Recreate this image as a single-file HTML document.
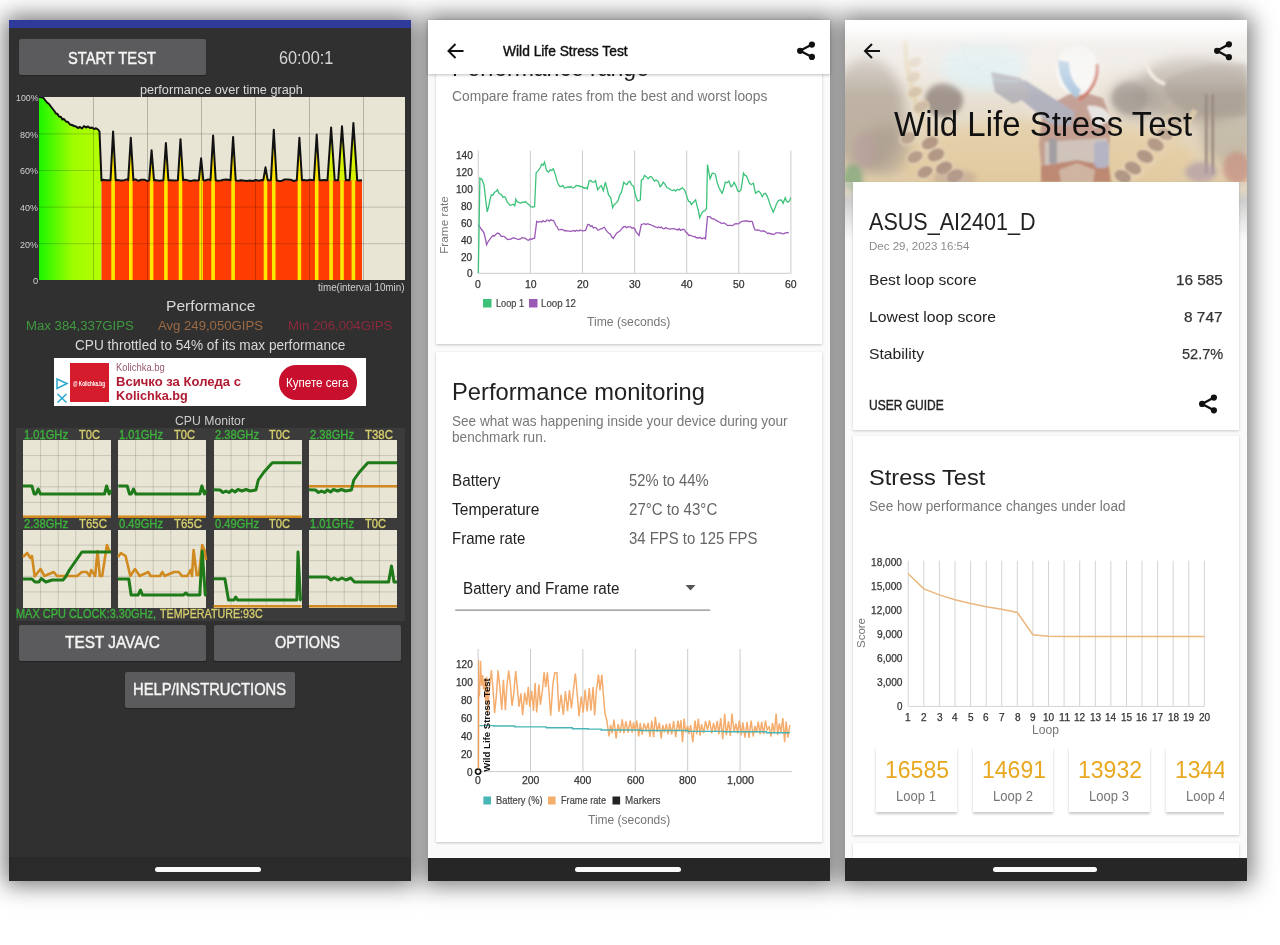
<!DOCTYPE html><html><head><meta charset="utf-8"><style>
html,body{margin:0;padding:0;width:1280px;height:945px;overflow:hidden;background:#fff;}
.t{position:absolute;white-space:nowrap;line-height:1;font-family:"Liberation Sans", sans-serif;transform-origin:0 0;}
</style></head><body>
<div style="position:absolute;left:9px;top:20px;width:402px;height:861px;box-shadow:0 0 22px 4px rgba(0,0,0,0.55);background:#303030;"></div>
<div style="position:absolute;left:428px;top:20px;width:402px;height:861px;box-shadow:0 0 22px 4px rgba(0,0,0,0.55);background:#303030;"></div>
<div style="position:absolute;left:845px;top:20px;width:402px;height:861px;box-shadow:0 0 22px 4px rgba(0,0,0,0.55);background:#303030;"></div>
<div style="position:absolute;left:9px;top:20px;width:402px;height:861px;background:#303030;"></div>
<div style="position:absolute;left:9px;top:20px;width:402px;height:8px;background:#2f3a9a;"></div>
<div style="position:absolute;left:9px;top:857px;width:402px;height:24px;background:#2a2a2a;"></div>
<div style="position:absolute;left:155px;top:866.5px;width:106px;height:5px;background:#fafafa;border-radius:3px;"></div>
<div style="position:absolute;left:19px;top:39px;width:187px;height:36px;background:#5b5b5d;border-radius:2px;box-shadow:0 1px 1px rgba(0,0,0,0.3);"></div>
<div style="position:absolute;left:19px;top:625px;width:187px;height:36px;background:#5b5b5d;border-radius:2px;box-shadow:0 1px 1px rgba(0,0,0,0.3);"></div>
<div style="position:absolute;left:213.5px;top:625px;width:187.5px;height:36px;background:#5b5b5d;border-radius:2px;box-shadow:0 1px 1px rgba(0,0,0,0.3);"></div>
<div style="position:absolute;left:125px;top:671.5px;width:170px;height:36px;background:#5b5b5d;border-radius:2px;box-shadow:0 1px 1px rgba(0,0,0,0.3);"></div>
<div style="position:absolute;left:39px;top:97px;width:366px;height:183px;background:#e8e5d5;"></div>
<div style="position:absolute;left:53.5px;top:357.5px;width:312.5px;height:48.5px;background:#ffffff;"></div>
<div style="position:absolute;left:69.5px;top:363px;width:39px;height:39px;background:#d41c2c;"></div>
<div style="position:absolute;left:278.5px;top:365px;width:78px;height:34.5px;background:#c8102e;border-radius:17px;"></div>
<div style="position:absolute;left:15.5px;top:428px;width:389px;height:193px;background:#3b3b3b;"></div>
<div style="position:absolute;left:23px;top:440px;width:88px;height:78px;background:#e8e5d5;"></div>
<div style="position:absolute;left:118px;top:440px;width:88px;height:78px;background:#e8e5d5;"></div>
<div style="position:absolute;left:213.5px;top:440px;width:88px;height:78px;background:#e8e5d5;"></div>
<div style="position:absolute;left:309px;top:440px;width:88px;height:78px;background:#e8e5d5;"></div>
<div style="position:absolute;left:23px;top:529.5px;width:88px;height:78px;background:#e8e5d5;"></div>
<div style="position:absolute;left:118px;top:529.5px;width:88px;height:78px;background:#e8e5d5;"></div>
<div style="position:absolute;left:213.5px;top:529.5px;width:88px;height:78px;background:#e8e5d5;"></div>
<div style="position:absolute;left:309px;top:529.5px;width:88px;height:78px;background:#e8e5d5;"></div>
<div style="position:absolute;left:428px;top:20px;width:402px;height:861px;background:#fafafa;"></div>
<div style="position:absolute;left:436px;top:20px;width:386px;height:323.5px;background:#fff;box-shadow:0 1px 2.5px rgba(0,0,0,0.22);"></div>
<div style="position:absolute;left:436px;top:352px;width:386px;height:490px;background:#fff;box-shadow:0 1px 2.5px rgba(0,0,0,0.22);"></div>
<div style="position:absolute;left:428px;top:73px;width:402px;height:12px;overflow:hidden;"><span class="t" style="left:24.40px;top:-15.96px;font-size:23.69px;color:#212121;transform:scaleX(0.9714);">Performance range</span></div>
<div style="position:absolute;left:428px;top:20px;width:402px;height:53.5px;background:#fff;box-shadow:0 1px 3px rgba(0,0,0,0.25);"></div>
<div style="position:absolute;left:428px;top:858px;width:402px;height:23px;background:#262626;"></div>
<div style="position:absolute;left:575px;top:867.3px;width:106px;height:5px;background:#fafafa;border-radius:3px;"></div>
<div style="position:absolute;left:845px;top:20px;width:402px;height:861px;background:#fafafa;"></div>
<div style="position:absolute;left:845px;top:20px;width:402px;height:200px;overflow:hidden;">
<svg width="402" height="200"><defs><linearGradient id="hb" x1="0" y1="0" x2="0" y2="1"><stop offset="0" stop-color="#f4f2f0"/><stop offset="0.2" stop-color="#ebe6e0"/><stop offset="0.5" stop-color="#e4d8c4"/><stop offset="0.8" stop-color="#ddc7a0"/><stop offset="1" stop-color="#d8c4a0"/></linearGradient><filter id="hf1" x="-50%" y="-50%" width="200%" height="200%"><feGaussianBlur stdDeviation="6"/></filter><filter id="hf2" x="-50%" y="-50%" width="200%" height="200%"><feGaussianBlur stdDeviation="2.5"/></filter><filter id="hf3" x="-50%" y="-50%" width="200%" height="200%"><feGaussianBlur stdDeviation="0.8"/></filter><linearGradient id="hw" x1="0" y1="0" x2="0" y2="1"><stop offset="0" stop-color="#fff" stop-opacity="1"/><stop offset="0.12" stop-color="#fff" stop-opacity="0.85"/><stop offset="0.35" stop-color="#f4f2f0" stop-opacity="0.55"/><stop offset="1" stop-color="#fff" stop-opacity="0"/></linearGradient></defs>
<rect width="402" height="200" fill="url(#hb)"/>
<ellipse cx="200" cy="140" rx="150" ry="40" fill="#e2c48e" opacity="0.55" filter="url(#hf1)"/>
<g filter="url(#hf1)"><ellipse cx="22" cy="95" rx="38" ry="58" fill="#a49686" opacity="0.7"/><ellipse cx="40" cy="130" rx="25" ry="25" fill="#9c8c7c" opacity="0.5"/></g>
<g filter="url(#hf2)"><ellipse cx="99" cy="80" rx="19" ry="17" fill="#7c6e66" opacity="0.75"/></g>
<g filter="url(#hf1)"><ellipse cx="140" cy="45" rx="45" ry="25" fill="#d6eef2" opacity="0.8"/></g>
<g filter="url(#hf3)" opacity="0.92">
<path d="M60,20 Q62,100 120,165" fill="none" stroke="#e2cca4" stroke-width="5" opacity="0.8"/>
<ellipse cx="70" cy="42" rx="6.8" ry="4.7" fill="#dccbb4" stroke="#ead8b8" stroke-width="1.2" transform="rotate(-25 70 42)"/>
<ellipse cx="68" cy="57" rx="7.4" ry="5.2" fill="#d6c4aa" stroke="#ead8b8" stroke-width="1.2" transform="rotate(-25 68 57)"/>
<ellipse cx="70" cy="72" rx="7.9" ry="5.2" fill="#d0bca0" stroke="#ead8b8" stroke-width="1.2" transform="rotate(-25 70 72)"/>
<ellipse cx="76" cy="87" rx="8.4" ry="5.8" fill="#c8b298" stroke="#ead8b8" stroke-width="1.2" transform="rotate(-25 76 87)"/>
<ellipse cx="85" cy="123" rx="9.5" ry="6.8" fill="#a88a76" stroke="#ead8b8" stroke-width="1.2" transform="rotate(-25 85 123)"/>
<ellipse cx="91" cy="135" rx="9.5" ry="6.8" fill="#a68874" stroke="#ead8b8" stroke-width="1.2" transform="rotate(-25 91 135)"/>
<ellipse cx="99" cy="148" rx="9.5" ry="6.8" fill="#a48674" stroke="#ead8b8" stroke-width="1.2" transform="rotate(-25 99 148)"/>
<ellipse cx="110" cy="156" rx="9.5" ry="6.8" fill="#a48674" stroke="#ead8b8" stroke-width="1.2" transform="rotate(-25 110 156)"/>
<ellipse cx="63" cy="118" rx="8.4" ry="6.3" fill="#b49a86" stroke="#ead8b8" stroke-width="1.2" transform="rotate(-25 63 118)"/>
<ellipse cx="70" cy="137" rx="8.9" ry="6.3" fill="#ac907c" stroke="#ead8b8" stroke-width="1.2" transform="rotate(-25 70 137)"/>
<ellipse cx="80" cy="152" rx="8.9" ry="6.3" fill="#a88a78" stroke="#ead8b8" stroke-width="1.2" transform="rotate(-25 80 152)"/>
</g>
<g filter="url(#hf3)" opacity="0.85">
<ellipse cx="215" cy="60" rx="40" ry="45" fill="#f6efe6" opacity="0.6" filter="url(#hf1)"/>
<path d="M198,88 L232,70 L258,78 L266,100 L262,162 L198,162 L194,125 Z" fill="#b88c80"/>
<path d="M200,122 L262,118 L262,146 L200,146 Z" fill="#c6bcb8"/>
<path d="M196,146 L232,140 L264,146 L266,162 L196,162 Z" fill="#b0705c"/>
<path d="M214,150 L232,143 L250,150 L248,162 L216,162 Z" fill="#c8a898"/>
<path d="M242,86 Q262,84 266,100 L250,108 Z" fill="#e8e4e4"/>
<path d="M160,66 L180,60 L230,92 L226,106 L205,104 Z" fill="#a0a2b4"/>
<path d="M146,52 L176,58 L186,76 L168,84 L150,72 Z" fill="#a8a6ae"/>
<ellipse cx="232" cy="50" rx="21" ry="25" fill="#fafafa"/>
<path d="M213,40 Q214,66 232,78 L236,70 Q224,60 224,42 Z" fill="#9cc0e0"/>
<path d="M252,44 Q254,66 234,80" fill="none" stroke="#c86048" stroke-width="3.5"/>
<rect x="249" y="121" width="15" height="27" rx="5" fill="#a4a8c4"/>
<rect x="204" y="118" width="8" height="26" rx="3" fill="#8c8c98"/>
</g>
<g filter="url(#hf1)"><ellipse cx="350" cy="70" rx="60" ry="34" fill="#a09284" opacity="0.65"/><ellipse cx="292" cy="78" rx="26" ry="22" fill="#a49a90" opacity="0.6"/><ellipse cx="385" cy="110" rx="30" ry="35" fill="#a49c8c" opacity="0.55"/></g>
<g filter="url(#hf2)" opacity="0.7"><path d="M318,62 Q350,40 402,44 L402,95 Q370,100 340,92 Q320,80 318,62 Z" fill="#a09488"/><ellipse cx="285" cy="78" rx="18" ry="16" fill="#968c84"/></g>
<g filter="url(#hf3)"><path d="M300,38 Q303,58 320,64" fill="none" stroke="#ece4d8" stroke-width="4"/><rect x="360" y="74" width="2.5" height="80" fill="#8e7c70"/><rect x="366.5" y="74" width="2.5" height="80" fill="#8e7c70"/></g>
<g filter="url(#hf3)" opacity="0.9"><path d="M350,90 Q330,130 280,165" fill="none" stroke="#e2cca4" stroke-width="6" opacity="0.85"/>
<ellipse cx="328" cy="101.5" rx="8.4" ry="5.2" fill="#c4ac96" stroke="#ead8b8" stroke-width="1.2" transform="rotate(25 328 101.5)"/>
<ellipse cx="320" cy="114" rx="8.9" ry="6.3" fill="#b49a84" stroke="#ead8b8" stroke-width="1.2" transform="rotate(25 320 114)"/>
<ellipse cx="310.5" cy="124.7" rx="9.5" ry="6.8" fill="#a88a76" stroke="#ead8b8" stroke-width="1.2" transform="rotate(25 310.5 124.7)"/>
<ellipse cx="300" cy="136.4" rx="9.5" ry="6.8" fill="#a48674" stroke="#ead8b8" stroke-width="1.2" transform="rotate(25 300 136.4)"/>
<ellipse cx="288" cy="148" rx="9.5" ry="6.8" fill="#a48674" stroke="#ead8b8" stroke-width="1.2" transform="rotate(25 288 148)"/>
<ellipse cx="277.7" cy="156.4" rx="9.5" ry="6.8" fill="#a48674" stroke="#ead8b8" stroke-width="1.2" transform="rotate(25 277.7 156.4)"/>
</g>
<g filter="url(#hf2)"><ellipse cx="392" cy="148" rx="14" ry="16" fill="#c08878" opacity="0.8"/><ellipse cx="356" cy="152" rx="16" ry="10" fill="#a8909c" opacity="0.7"/><ellipse cx="8" cy="158" rx="10" ry="14" fill="#78a070" opacity="0.8"/><ellipse cx="20" cy="130" rx="12" ry="18" fill="#b49494" opacity="0.5"/><ellipse cx="110" cy="158" rx="22" ry="8" fill="#b09488" opacity="0.5"/></g>
<rect width="402" height="200" fill="#fff" opacity="0.1"/>
<g filter="url(#hf3)" opacity="0.5" fill="none" stroke="#c8e4ec" stroke-width="1.5"><path d="M90,22 Q110,15 130,30 Q150,45 170,40"/><path d="M100,40 Q120,35 140,55 Q155,65 175,60"/><path d="M115,20 L125,50 L150,35"/></g>
<rect width="402" height="75" fill="url(#hw)"/>
<rect y="162" width="402" height="38" fill="#e4e0dc" opacity="0.5"/>
</svg>
</div>
<div style="position:absolute;left:845px;top:190px;width:402px;height:50px;background:linear-gradient(180deg,rgba(190,185,175,0.0) 0%,rgba(205,205,205,0.95) 20%,#e6e6e6 60%,#fafafa 100%);"></div>
<div style="position:absolute;left:853px;top:182px;width:386px;height:247.5px;background:#fff;box-shadow:0 1px 2.5px rgba(0,0,0,0.2);"></div>
<div style="position:absolute;left:853px;top:436px;width:386px;height:399px;background:#fff;box-shadow:0 1px 2.5px rgba(0,0,0,0.2);"></div>
<div style="position:absolute;left:853px;top:842.6px;width:386px;height:15.4px;background:#fff;box-shadow:0 1px 2.5px rgba(0,0,0,0.2);"></div>
<div style="position:absolute;left:845px;top:858px;width:402px;height:23px;background:#262626;"></div>
<div style="position:absolute;left:993px;top:867.3px;width:104px;height:5px;background:#fafafa;border-radius:3px;"></div>
<div style="position:absolute;left:853px;top:740px;width:370.5px;height:80px;overflow:hidden;">
<div style="position:absolute;left:23.1px;top:7.1px;width:80.5px;height:65px;background:#fff;box-shadow:0 1.5px 2.5px rgba(0,0,0,0.22);"></div>
<div style="position:absolute;left:119.6px;top:7.1px;width:80.5px;height:65px;background:#fff;box-shadow:0 1.5px 2.5px rgba(0,0,0,0.22);"></div>
<div style="position:absolute;left:216.1px;top:7.1px;width:80.5px;height:65px;background:#fff;box-shadow:0 1.5px 2.5px rgba(0,0,0,0.22);"></div>
<div style="position:absolute;left:312.6px;top:7.1px;width:80.5px;height:65px;background:#fff;box-shadow:0 1.5px 2.5px rgba(0,0,0,0.22);"></div>
</div>
<svg width="1280" height="945" style="position:absolute;left:0;top:0">
<defs>
<linearGradient id="g1" x1="39" x2="101" y1="0" y2="0" gradientUnits="userSpaceOnUse">
<stop offset="0" stop-color="#1cf400"/><stop offset="0.15" stop-color="#40f800"/><stop offset="0.55" stop-color="#a0fc00"/><stop offset="1" stop-color="#b4ff00"/></linearGradient>
<clipPath id="c1"><rect x="39" y="97" width="366" height="183"/></clipPath>
<clipPath id="cc"><rect x="23" y="440" width="374" height="167"/></clipPath>
</defs>
<g clip-path="url(#c1)">
<path d="M39,280 L39.0,97.0 L43.0,97.5 L45.0,100.0 L47.0,102.5 L49.0,104.0 L52.0,108.0 L54.0,110.5 L56.0,113.5 L57.5,114.0 L59.0,116.5 L61.0,117.0 L62.5,119.5 L64.0,119.0 L66.0,121.5 L68.0,122.0 L70.0,124.5 L72.0,125.0 L74.0,126.0 L76.0,126.5 L78.0,128.0 L80.0,127.0 L82.0,128.5 L84.0,126.0 L86.0,127.5 L88.0,126.5 L90.0,128.0 L92.0,127.5 L94.0,129.0 L96.0,128.3 L98.0,129.5 L99.5,131.5 L101.5,180.6 L101.5,280 Z" fill="url(#g1)"/>
<rect x="101.5" y="180.2" width="260.5" height="99.80000000000001" fill="#ff3d00"/>
<path d="M110.5,180.2 L113.1,131.4 L115.69999999999999,180.2 Z" fill="#ffe600"/>
<rect x="111.3" y="180.2" width="3.6" height="99.80000000000001" fill="#ffe800"/>
<path d="M128.20000000000002,180.2 L130.8,137.7 L133.4,180.2 Z" fill="#ffe600"/>
<rect x="129.0" y="180.2" width="3.6" height="99.80000000000001" fill="#ffe800"/>
<path d="M149.2,180.2 L151.6,150.2 L154.0,180.2 Z" fill="#ffe600"/>
<rect x="149.79999999999998" y="180.2" width="3.6" height="99.80000000000001" fill="#ffe800"/>
<path d="M163.4,180.2 L165.9,143.1 L168.4,180.2 Z" fill="#ffe600"/>
<rect x="164.1" y="180.2" width="3.6" height="99.80000000000001" fill="#ffe800"/>
<path d="M177.9,180.2 L180.5,139.2 L183.1,180.2 Z" fill="#ffe600"/>
<rect x="178.7" y="180.2" width="3.6" height="99.80000000000001" fill="#ffe800"/>
<path d="M198.9,180.2 L201.1,158.3 L203.29999999999998,180.2 Z" fill="#ffe600"/>
<rect x="199.29999999999998" y="180.2" width="3.6" height="99.80000000000001" fill="#ffe800"/>
<path d="M210.5,180.2 L213.1,135.5 L215.7,180.2 Z" fill="#ffe600"/>
<rect x="211.29999999999998" y="180.2" width="3.6" height="99.80000000000001" fill="#ffe800"/>
<path d="M230.5,180.2 L233.1,136.9 L235.7,180.2 Z" fill="#ffe600"/>
<rect x="231.29999999999998" y="180.2" width="3.6" height="99.80000000000001" fill="#ffe800"/>
<path d="M263.3,180.2 L265.5,167.3 L267.7,180.2 Z" fill="#ffe600"/>
<rect x="263.7" y="180.2" width="3.6" height="99.80000000000001" fill="#ffe800"/>
<path d="M270.95,180.2 L273.75,129.8 L276.55,180.2 Z" fill="#ffe600"/>
<rect x="271.95" y="180.2" width="3.6" height="99.80000000000001" fill="#ffe800"/>
<path d="M296.79999999999995,180.2 L299.4,137.7 L302.0,180.2 Z" fill="#ffe600"/>
<rect x="297.59999999999997" y="180.2" width="3.6" height="99.80000000000001" fill="#ffe800"/>
<path d="M313.9,180.2 L316.7,134.5 L319.5,180.2 Z" fill="#ffe600"/>
<rect x="314.9" y="180.2" width="3.6" height="99.80000000000001" fill="#ffe800"/>
<path d="M327.5,180.2 L331.1,127.5 L334.70000000000005,180.2 Z" fill="#d8f400"/>
<rect x="329.3" y="180.2" width="3.6" height="99.80000000000001" fill="#ffe800"/>
<path d="M338.2,180.2 L342,126.25 L345.8,180.2 Z" fill="#d8f400"/>
<rect x="340.2" y="180.2" width="3.6" height="99.80000000000001" fill="#ffe800"/>
<path d="M349.59999999999997,180.2 L353.4,123.1 L357.2,180.2 Z" fill="#d8f400"/>
<rect x="351.59999999999997" y="180.2" width="3.6" height="99.80000000000001" fill="#ffe800"/>
<line x1="93.5" y1="97" x2="93.5" y2="280" stroke="#000" stroke-opacity="0.22" stroke-width="1"/>
<line x1="147.5" y1="97" x2="147.5" y2="280" stroke="#000" stroke-opacity="0.22" stroke-width="1"/>
<line x1="201.5" y1="97" x2="201.5" y2="280" stroke="#000" stroke-opacity="0.22" stroke-width="1"/>
<line x1="255.5" y1="97" x2="255.5" y2="280" stroke="#000" stroke-opacity="0.22" stroke-width="1"/>
<line x1="309.5" y1="97" x2="309.5" y2="280" stroke="#000" stroke-opacity="0.22" stroke-width="1"/>
<line x1="363.5" y1="97" x2="363.5" y2="280" stroke="#000" stroke-opacity="0.22" stroke-width="1"/>
<line x1="39" y1="133.9" x2="405" y2="133.9" stroke="#000" stroke-opacity="0.18" stroke-width="1"/>
<line x1="39" y1="170.5" x2="405" y2="170.5" stroke="#000" stroke-opacity="0.18" stroke-width="1"/>
<line x1="39" y1="207.1" x2="405" y2="207.1" stroke="#000" stroke-opacity="0.18" stroke-width="1"/>
<line x1="39" y1="243.7" x2="405" y2="243.7" stroke="#000" stroke-opacity="0.18" stroke-width="1"/>
<path d="M39.0,97.0 L43.0,97.5 L45.0,100.0 L47.0,102.5 L49.0,104.0 L52.0,108.0 L54.0,110.5 L56.0,113.5 L57.5,114.0 L59.0,116.5 L61.0,117.0 L62.5,119.5 L64.0,119.0 L66.0,121.5 L68.0,122.0 L70.0,124.5 L72.0,125.0 L74.0,126.0 L76.0,126.5 L78.0,128.0 L80.0,127.0 L82.0,128.5 L84.0,126.0 L86.0,127.5 L88.0,126.5 L90.0,128.0 L92.0,127.5 L94.0,129.0 L96.0,128.3 L98.0,129.5 L99.5,131.5 L101.5,180.6 L103.0,179.7 L106.0,180.3 L110.5,180.2 L113.1,131.4 L115.7,180.2 L117.7,180.0 L120.7,180.4 L123.7,180.4 L126.7,179.4 L128.2,180.2 L130.8,137.7 L133.4,180.2 L135.4,179.3 L138.4,180.8 L141.4,179.8 L144.4,179.7 L147.4,181.1 L149.2,180.2 L151.6,150.2 L154.0,180.2 L156.0,180.1 L159.0,180.8 L163.4,180.2 L165.9,143.1 L168.4,180.2 L170.4,180.2 L173.4,180.5 L177.9,180.2 L180.5,139.2 L183.1,180.2 L185.1,179.6 L188.1,180.4 L191.1,180.9 L194.1,180.2 L197.1,180.6 L198.9,180.2 L201.1,158.3 L203.3,180.2 L205.3,180.5 L208.3,179.4 L210.5,180.2 L213.1,135.5 L215.7,180.2 L217.7,180.7 L220.7,180.4 L223.7,179.8 L226.7,179.4 L230.5,180.2 L233.1,136.9 L235.7,180.2 L237.7,180.9 L240.7,180.2 L243.7,180.6 L246.7,180.9 L249.7,180.6 L252.7,181.0 L255.7,180.0 L258.7,180.7 L261.7,180.1 L263.3,180.2 L265.5,167.3 L267.7,180.2 L270.9,180.2 L273.8,129.8 L276.6,180.2 L278.6,181.0 L281.6,180.9 L284.6,179.5 L287.6,179.5 L290.6,179.7 L293.6,181.0 L296.8,180.2 L299.4,137.7 L302.0,180.2 L304.0,180.1 L307.0,180.4 L310.0,179.8 L313.9,180.2 L316.7,134.5 L319.5,180.2 L321.5,180.2 L324.5,180.0 L327.5,180.2 L331.1,127.5 L334.7,180.2 L338.2,180.2 L342.0,126.2 L345.8,180.2 L347.8,179.9 L349.6,180.2 L353.4,123.1 L357.2,180.2 L359.2,180.4 L362.0,180.2" fill="none" stroke="#111" stroke-width="2" stroke-linejoin="round"/>
</g>
<line x1="40.6" y1="440" x2="40.6" y2="518" stroke="#000" stroke-opacity="0.14" stroke-width="1"/>
<line x1="58.2" y1="440" x2="58.2" y2="518" stroke="#000" stroke-opacity="0.14" stroke-width="1"/>
<line x1="75.8" y1="440" x2="75.8" y2="518" stroke="#000" stroke-opacity="0.14" stroke-width="1"/>
<line x1="93.4" y1="440" x2="93.4" y2="518" stroke="#000" stroke-opacity="0.14" stroke-width="1"/>
<line x1="23" y1="455.6" x2="111" y2="455.6" stroke="#000" stroke-opacity="0.14" stroke-width="1"/>
<line x1="23" y1="471.2" x2="111" y2="471.2" stroke="#000" stroke-opacity="0.14" stroke-width="1"/>
<line x1="23" y1="486.8" x2="111" y2="486.8" stroke="#000" stroke-opacity="0.14" stroke-width="1"/>
<line x1="23" y1="502.4" x2="111" y2="502.4" stroke="#000" stroke-opacity="0.14" stroke-width="1"/>
<line x1="135.6" y1="440" x2="135.6" y2="518" stroke="#000" stroke-opacity="0.14" stroke-width="1"/>
<line x1="153.2" y1="440" x2="153.2" y2="518" stroke="#000" stroke-opacity="0.14" stroke-width="1"/>
<line x1="170.8" y1="440" x2="170.8" y2="518" stroke="#000" stroke-opacity="0.14" stroke-width="1"/>
<line x1="188.4" y1="440" x2="188.4" y2="518" stroke="#000" stroke-opacity="0.14" stroke-width="1"/>
<line x1="118" y1="455.6" x2="206" y2="455.6" stroke="#000" stroke-opacity="0.14" stroke-width="1"/>
<line x1="118" y1="471.2" x2="206" y2="471.2" stroke="#000" stroke-opacity="0.14" stroke-width="1"/>
<line x1="118" y1="486.8" x2="206" y2="486.8" stroke="#000" stroke-opacity="0.14" stroke-width="1"/>
<line x1="118" y1="502.4" x2="206" y2="502.4" stroke="#000" stroke-opacity="0.14" stroke-width="1"/>
<line x1="231.1" y1="440" x2="231.1" y2="518" stroke="#000" stroke-opacity="0.14" stroke-width="1"/>
<line x1="248.7" y1="440" x2="248.7" y2="518" stroke="#000" stroke-opacity="0.14" stroke-width="1"/>
<line x1="266.3" y1="440" x2="266.3" y2="518" stroke="#000" stroke-opacity="0.14" stroke-width="1"/>
<line x1="283.9" y1="440" x2="283.9" y2="518" stroke="#000" stroke-opacity="0.14" stroke-width="1"/>
<line x1="213.5" y1="455.6" x2="301.5" y2="455.6" stroke="#000" stroke-opacity="0.14" stroke-width="1"/>
<line x1="213.5" y1="471.2" x2="301.5" y2="471.2" stroke="#000" stroke-opacity="0.14" stroke-width="1"/>
<line x1="213.5" y1="486.8" x2="301.5" y2="486.8" stroke="#000" stroke-opacity="0.14" stroke-width="1"/>
<line x1="213.5" y1="502.4" x2="301.5" y2="502.4" stroke="#000" stroke-opacity="0.14" stroke-width="1"/>
<line x1="326.6" y1="440" x2="326.6" y2="518" stroke="#000" stroke-opacity="0.14" stroke-width="1"/>
<line x1="344.2" y1="440" x2="344.2" y2="518" stroke="#000" stroke-opacity="0.14" stroke-width="1"/>
<line x1="361.8" y1="440" x2="361.8" y2="518" stroke="#000" stroke-opacity="0.14" stroke-width="1"/>
<line x1="379.4" y1="440" x2="379.4" y2="518" stroke="#000" stroke-opacity="0.14" stroke-width="1"/>
<line x1="309" y1="455.6" x2="397" y2="455.6" stroke="#000" stroke-opacity="0.14" stroke-width="1"/>
<line x1="309" y1="471.2" x2="397" y2="471.2" stroke="#000" stroke-opacity="0.14" stroke-width="1"/>
<line x1="309" y1="486.8" x2="397" y2="486.8" stroke="#000" stroke-opacity="0.14" stroke-width="1"/>
<line x1="309" y1="502.4" x2="397" y2="502.4" stroke="#000" stroke-opacity="0.14" stroke-width="1"/>
<line x1="40.6" y1="529.5" x2="40.6" y2="607.5" stroke="#000" stroke-opacity="0.14" stroke-width="1"/>
<line x1="58.2" y1="529.5" x2="58.2" y2="607.5" stroke="#000" stroke-opacity="0.14" stroke-width="1"/>
<line x1="75.8" y1="529.5" x2="75.8" y2="607.5" stroke="#000" stroke-opacity="0.14" stroke-width="1"/>
<line x1="93.4" y1="529.5" x2="93.4" y2="607.5" stroke="#000" stroke-opacity="0.14" stroke-width="1"/>
<line x1="23" y1="545.1" x2="111" y2="545.1" stroke="#000" stroke-opacity="0.14" stroke-width="1"/>
<line x1="23" y1="560.7" x2="111" y2="560.7" stroke="#000" stroke-opacity="0.14" stroke-width="1"/>
<line x1="23" y1="576.3" x2="111" y2="576.3" stroke="#000" stroke-opacity="0.14" stroke-width="1"/>
<line x1="23" y1="591.9" x2="111" y2="591.9" stroke="#000" stroke-opacity="0.14" stroke-width="1"/>
<line x1="135.6" y1="529.5" x2="135.6" y2="607.5" stroke="#000" stroke-opacity="0.14" stroke-width="1"/>
<line x1="153.2" y1="529.5" x2="153.2" y2="607.5" stroke="#000" stroke-opacity="0.14" stroke-width="1"/>
<line x1="170.8" y1="529.5" x2="170.8" y2="607.5" stroke="#000" stroke-opacity="0.14" stroke-width="1"/>
<line x1="188.4" y1="529.5" x2="188.4" y2="607.5" stroke="#000" stroke-opacity="0.14" stroke-width="1"/>
<line x1="118" y1="545.1" x2="206" y2="545.1" stroke="#000" stroke-opacity="0.14" stroke-width="1"/>
<line x1="118" y1="560.7" x2="206" y2="560.7" stroke="#000" stroke-opacity="0.14" stroke-width="1"/>
<line x1="118" y1="576.3" x2="206" y2="576.3" stroke="#000" stroke-opacity="0.14" stroke-width="1"/>
<line x1="118" y1="591.9" x2="206" y2="591.9" stroke="#000" stroke-opacity="0.14" stroke-width="1"/>
<line x1="231.1" y1="529.5" x2="231.1" y2="607.5" stroke="#000" stroke-opacity="0.14" stroke-width="1"/>
<line x1="248.7" y1="529.5" x2="248.7" y2="607.5" stroke="#000" stroke-opacity="0.14" stroke-width="1"/>
<line x1="266.3" y1="529.5" x2="266.3" y2="607.5" stroke="#000" stroke-opacity="0.14" stroke-width="1"/>
<line x1="283.9" y1="529.5" x2="283.9" y2="607.5" stroke="#000" stroke-opacity="0.14" stroke-width="1"/>
<line x1="213.5" y1="545.1" x2="301.5" y2="545.1" stroke="#000" stroke-opacity="0.14" stroke-width="1"/>
<line x1="213.5" y1="560.7" x2="301.5" y2="560.7" stroke="#000" stroke-opacity="0.14" stroke-width="1"/>
<line x1="213.5" y1="576.3" x2="301.5" y2="576.3" stroke="#000" stroke-opacity="0.14" stroke-width="1"/>
<line x1="213.5" y1="591.9" x2="301.5" y2="591.9" stroke="#000" stroke-opacity="0.14" stroke-width="1"/>
<line x1="326.6" y1="529.5" x2="326.6" y2="607.5" stroke="#000" stroke-opacity="0.14" stroke-width="1"/>
<line x1="344.2" y1="529.5" x2="344.2" y2="607.5" stroke="#000" stroke-opacity="0.14" stroke-width="1"/>
<line x1="361.8" y1="529.5" x2="361.8" y2="607.5" stroke="#000" stroke-opacity="0.14" stroke-width="1"/>
<line x1="379.4" y1="529.5" x2="379.4" y2="607.5" stroke="#000" stroke-opacity="0.14" stroke-width="1"/>
<line x1="309" y1="545.1" x2="397" y2="545.1" stroke="#000" stroke-opacity="0.14" stroke-width="1"/>
<line x1="309" y1="560.7" x2="397" y2="560.7" stroke="#000" stroke-opacity="0.14" stroke-width="1"/>
<line x1="309" y1="576.3" x2="397" y2="576.3" stroke="#000" stroke-opacity="0.14" stroke-width="1"/>
<line x1="309" y1="591.9" x2="397" y2="591.9" stroke="#000" stroke-opacity="0.14" stroke-width="1"/>
<rect x="23" y="515.5" width="88" height="2.5" fill="#d08a20"/>
<rect x="118" y="515.5" width="88" height="2.5" fill="#d08a20"/>
<rect x="213.5" y="515.5" width="88" height="2.5" fill="#d08a20"/>
<rect x="213.5" y="605.0" width="88" height="2.5" fill="#d08a20"/>
<rect x="309" y="605.0" width="88" height="2.5" fill="#d08a20"/>
<polyline points="23.0,486.0 31.9,486.0 34.2,494.0 36.0,494.0 38.1,489.0 40.5,494.0 104.5,494.0 106.6,486.0 109.2,494.0 111.0,490.0" fill="none" stroke="#1f7a1a" stroke-width="3" stroke-linejoin="round"/>
<polyline points="118.3,486.0 127.2,486.0 129.5,494.0 131.3,494.0 133.4,489.0 135.8,494.0 199.8,494.0 201.9,486.0 204.5,494.0 206.3,490.0" fill="none" stroke="#1f7a1a" stroke-width="3" stroke-linejoin="round"/>
<polyline points="213.5,489.7 220.0,490.0 223.0,492.5 226.0,491.0 229.0,492.5 232.0,490.0 235.0,492.0 238.0,489.5 242.0,491.0 246.0,489.5 250.0,491.0 255.9,490.0 258.3,480.0 264.0,472.0 272.3,462.8 301.5,462.8" fill="none" stroke="#1f7a1a" stroke-width="3" stroke-linejoin="round"/>
<rect x="309" y="485" width="88" height="2.5" fill="#d08a20"/>
<polyline points="309.0,489.7 315.5,490.0 318.5,492.5 321.5,491.0 324.5,492.5 327.5,490.0 330.5,492.0 333.5,489.5 337.5,491.0 341.5,489.5 345.5,491.0 351.4,490.0 353.8,480.0 359.5,472.0 367.8,462.8 397.0,462.8" fill="none" stroke="#1f7a1a" stroke-width="3" stroke-linejoin="round"/>
<polyline points="23.0,557.2 27.2,553.0 30.3,558.0 31.9,556.0 34.7,576.5 40.5,569.0 44.4,576.0 53.8,572.0 56.9,576.0 77.2,576.0 81.9,572.0 86.6,572.0 89.7,576.0 91.2,570.0 95.2,576.0 97.5,551.0 99.8,576.0 102.2,576.0 106.9,545.0 110.0,552.0" fill="none" stroke="#d08a20" stroke-width="2.6" stroke-linejoin="round"/>
<polyline points="23.0,579.0 31.9,579.0 35.0,582.0 38.9,582.0 41.2,578.5 45.9,582.0 52.2,580.0 63.0,580.0 65.5,577.0 69.4,570.0 81.9,552.0 111.0,552.0" fill="none" stroke="#1f7a1a" stroke-width="3" stroke-linejoin="round"/>
<polyline points="118.0,557.0 120.9,553.0 125.6,556.0 130.3,576.0 135.0,569.0 139.7,576.0 148.3,572.0 150.6,576.0 160.0,576.0 162.3,572.0 164.7,576.0 174.0,572.0 178.8,572.0 181.9,576.0 187.3,576.0 190.5,570.0 192.0,576.0 193.6,550.0 196.7,575.0 199.0,575.0 202.2,545.0 204.5,550.0 206.0,560.0" fill="none" stroke="#d08a20" stroke-width="2.6" stroke-linejoin="round"/>
<polyline points="118.0,579.0 128.8,579.0 131.1,595.0 138.1,595.0 140.5,590.0 142.5,595.0 183.4,595.0 185.8,593.0 188.1,595.0 199.8,595.0 202.2,551.0 205.3,595.0 206.0,595.0" fill="none" stroke="#1f7a1a" stroke-width="3" stroke-linejoin="round"/>
<polyline points="213.5,578.7 224.9,578.7 228.5,600.0 234.0,600.0 235.7,597.0 237.5,600.0 296.9,600.0 298.0,552.0 300.5,600.0 301.5,600.0" fill="none" stroke="#1f7a1a" stroke-width="3" stroke-linejoin="round"/>
<polyline points="309.0,577.0 327.5,577.0 331.0,580.0 334.0,578.0 338.0,580.0 342.0,578.0 346.0,580.0 350.8,578.0 354.5,582.0 388.6,582.0 391.5,566.0 394.0,582.0 397.0,582.0" fill="none" stroke="#1f7a1a" stroke-width="3" stroke-linejoin="round"/>
<path d="M57,379 L67,383.5 L57,388.5 Z" fill="none" stroke="#2aa8d0" stroke-width="1.5"/>
<path d="M57.5,394 L66.5,402.5 M66.5,394 L57.5,402.5" stroke="#2aa8d0" stroke-width="1.6"/>
<line x1="530.4" y1="150.5" x2="530.4" y2="273.3" stroke="#cccccc" stroke-width="1"/>
<line x1="582.5" y1="150.5" x2="582.5" y2="273.3" stroke="#cccccc" stroke-width="1"/>
<line x1="634.6" y1="150.5" x2="634.6" y2="273.3" stroke="#cccccc" stroke-width="1"/>
<line x1="686.7" y1="150.5" x2="686.7" y2="273.3" stroke="#cccccc" stroke-width="1"/>
<line x1="738.8" y1="150.5" x2="738.8" y2="273.3" stroke="#cccccc" stroke-width="1"/>
<line x1="790.9" y1="150.5" x2="790.9" y2="273.3" stroke="#cccccc" stroke-width="1"/>
<line x1="478.3" y1="150.5" x2="478.3" y2="273.3" stroke="#cccccc" stroke-width="1"/>
<line x1="478.3" y1="273.3" x2="790.9" y2="273.3" stroke="#cccccc" stroke-width="1"/>
<path d="M478.3,224.6 L479.6,226.5 L480.9,228.8 L482.5,230.5 L484.0,233.1 L485.3,238.4 L486.6,244.7 L488.2,241.5 L489.8,239.4 L491.3,237.4 L492.9,235.6 L494.5,236.0 L496.0,234.2 L497.6,233.1 L499.4,233.9 L501.2,236.3 L502.6,236.4 L504.0,236.3 L505.4,237.4 L507.0,239.1 L508.5,239.6 L509.8,239.2 L511.1,239.1 L512.4,238.2 L513.7,237.9 L515.3,238.3 L516.9,239.0 L518.2,239.6 L519.6,239.1 L520.9,238.7 L522.3,237.4 L523.6,237.9 L525.5,238.4 L527.3,239.9 L528.7,240.2 L530.2,238.8 L531.7,239.6 L533.1,238.5 L534.6,238.4 L536.7,221.4 L538.5,222.0 L540.3,221.4 L541.6,222.2 L542.9,220.6 L544.2,221.6 L545.5,221.5 L546.8,220.1 L548.1,220.2 L549.4,221.1 L550.7,219.8 L552.0,220.4 L553.3,220.4 L554.6,222.5 L555.9,225.7 L557.2,226.8 L558.5,229.9 L560.0,229.7 L561.5,229.4 L562.9,229.6 L564.4,230.8 L565.8,230.5 L567.1,230.8 L568.5,231.1 L569.8,231.1 L571.1,231.3 L572.4,230.9 L573.7,230.4 L575.1,231.4 L576.4,230.2 L577.7,230.8 L579.0,230.9 L580.3,230.0 L581.7,230.6 L583.0,230.8 L584.3,230.6 L585.6,230.5 L587.7,224.4 L589.1,224.7 L590.6,226.5 L592.0,225.7 L593.4,228.0 L594.9,227.4 L596.3,228.0 L597.7,230.1 L599.2,229.9 L600.5,228.8 L601.8,228.8 L603.1,227.7 L604.4,227.2 L605.9,229.9 L607.3,231.7 L608.8,233.3 L610.3,233.9 L611.8,237.0 L613.2,238.4 L614.5,236.3 L615.8,234.4 L617.1,232.8 L618.4,232.0 L619.8,230.9 L621.1,229.6 L622.4,228.0 L623.7,226.7 L625.1,226.4 L626.5,227.7 L627.9,226.7 L629.3,226.8 L630.7,226.8 L632.1,228.4 L633.6,227.7 L634.9,228.9 L636.3,232.3 L637.7,233.8 L639.0,235.5 L641.4,224.4 L642.9,224.2 L644.5,223.7 L646.1,224.6 L647.6,223.7 L649.2,224.4 L650.6,224.7 L651.9,225.5 L653.3,225.9 L654.7,226.6 L656.0,227.2 L657.4,227.5 L658.8,227.0 L660.1,227.7 L661.5,227.0 L662.9,228.6 L664.2,228.9 L665.6,227.5 L667.0,228.4 L668.3,228.7 L669.7,229.1 L671.1,228.8 L672.4,228.8 L673.8,228.5 L675.1,229.2 L676.5,229.4 L677.8,230.1 L679.2,228.8 L680.6,230.4 L681.9,229.7 L683.3,229.3 L684.6,229.9 L686.0,232.4 L687.4,233.3 L688.8,235.5 L690.3,235.1 L691.9,236.0 L693.5,236.6 L694.8,236.4 L696.1,237.8 L697.5,237.5 L698.8,238.2 L700.1,237.3 L701.5,238.5 L702.8,238.5 L704.1,237.8 L705.5,238.9 L707.5,216.6 L708.8,216.6 L710.1,216.9 L711.4,218.4 L712.8,218.9 L714.1,219.0 L715.4,220.0 L716.7,220.6 L718.1,221.6 L719.5,222.0 L720.9,223.1 L722.3,223.3 L723.7,222.9 L725.1,223.5 L726.5,224.7 L727.9,225.6 L729.3,225.3 L730.7,225.4 L732.1,225.6 L733.5,225.0 L734.9,223.9 L736.3,223.6 L737.8,223.9 L739.2,223.5 L740.6,222.0 L742.1,221.3 L743.5,221.1 L745.0,220.9 L746.4,221.0 L747.9,220.9 L749.4,221.7 L750.9,221.2 L752.3,221.7 L753.6,226.2 L755.0,229.9 L756.4,230.2 L757.9,230.0 L759.3,230.3 L760.8,231.2 L762.2,231.1 L763.6,230.8 L765.0,231.7 L766.3,232.2 L767.7,233.6 L769.1,233.1 L770.5,234.1 L771.8,233.8 L773.2,234.5 L774.6,234.0 L776.0,232.9 L777.4,232.9 L778.9,232.9 L780.5,233.0 L782.0,233.7 L783.4,233.8 L784.8,233.2 L786.1,232.8 L787.5,232.5 L788.8,232.9" fill="none" stroke="#9b59b6" stroke-width="1.3"/>
<path d="M478.3,273.3 L479.9,178.1 L481.9,179.2 L484.0,184.7 L485.6,198.8 L487.2,211.9 L488.5,207.3 L489.9,200.2 L491.3,195.0 L492.9,195.0 L494.5,192.3 L496.0,191.5 L497.6,189.8 L498.9,193.2 L500.2,194.0 L501.5,194.8 L502.8,197.1 L504.1,196.7 L505.4,197.4 L507.0,201.7 L508.5,203.4 L510.1,205.3 L511.6,204.9 L513.2,204.2 L514.8,205.8 L515.8,199.2 L517.4,202.0 L518.9,202.4 L520.5,203.3 L522.1,202.1 L523.6,202.4 L525.5,201.6 L527.3,203.4 L529.1,204.8 L530.9,206.7 L532.7,207.0 L534.6,206.7 L536.1,172.9 L538.2,170.6 L540.3,167.5 L541.7,164.3 L543.1,165.3 L544.5,162.2 L546.6,170.6 L548.6,172.1 L550.2,169.9 L551.8,170.5 L553.3,168.7 L555.4,174.9 L557.0,180.9 L558.5,184.7 L560.0,186.5 L561.5,186.5 L562.9,185.5 L564.4,188.0 L565.8,187.6 L567.1,187.1 L568.4,186.8 L569.7,187.4 L571.0,186.6 L572.3,187.9 L573.6,187.7 L574.9,187.1 L576.2,185.4 L577.6,186.0 L578.9,185.6 L580.2,186.7 L581.6,186.4 L583.0,187.4 L584.4,188.4 L585.8,187.5 L587.2,188.9 L589.3,180.5 L590.8,180.7 L592.4,182.2 L594.0,182.1 L595.5,180.5 L597.6,189.8 L599.4,187.4 L601.3,185.6 L603.3,190.6 L605.4,182.2 L607.0,188.5 L608.5,195.0 L610.6,197.4 L612.7,207.7 L614.1,204.8 L615.5,203.5 L616.9,202.4 L618.3,200.0 L619.7,194.8 L621.1,193.2 L622.4,188.8 L623.7,182.2 L625.2,183.7 L626.8,184.7 L628.3,182.3 L629.9,181.3 L631.7,184.9 L633.6,186.4 L635.6,195.7 L637.7,201.1 L639.0,200.5 L640.3,199.9 L641.4,180.0 L642.9,179.2 L644.5,175.5 L646.3,176.7 L648.1,178.8 L649.7,176.9 L651.3,176.6 L652.8,178.6 L654.4,181.1 L656.2,180.0 L658.0,181.1 L660.1,186.7 L661.7,185.0 L663.3,182.2 L665.1,184.4 L666.9,187.8 L668.3,188.2 L669.7,189.0 L671.1,190.0 L672.6,190.5 L674.2,189.7 L675.8,191.1 L677.3,189.2 L678.9,190.0 L680.7,188.9 L682.5,187.8 L684.6,190.0 L685.9,193.4 L687.2,197.8 L688.6,201.4 L690.0,201.6 L691.4,204.5 L693.5,202.2 L695.6,199.9 L696.9,205.4 L698.3,210.3 L699.7,217.8 L701.5,213.5 L703.4,211.1 L704.9,210.6 L706.5,208.8 L707.5,164.5 L708.8,172.0 L710.1,178.8 L712.2,173.2 L713.8,173.3 L715.4,174.3 L717.2,182.5 L719.0,187.8 L720.6,190.7 L722.1,193.3 L723.7,188.8 L725.3,182.2 L727.1,182.8 L728.9,181.1 L731.0,186.7 L732.5,185.8 L734.1,182.2 L735.9,185.8 L737.8,191.1 L739.3,191.7 L740.9,190.0 L742.2,182.4 L743.5,173.2 L744.9,175.4 L746.3,175.8 L747.7,178.8 L749.2,182.9 L750.8,184.4 L752.1,184.0 L753.4,183.3 L755.5,193.3 L757.0,192.1 L758.6,191.1 L760.4,192.8 L762.2,196.7 L763.8,194.0 L765.4,193.3 L767.2,196.1 L769.0,201.1 L770.4,205.5 L771.8,208.8 L773.2,212.2 L774.7,208.8 L776.3,204.5 L778.1,201.0 L780.0,199.9 L781.5,200.2 L783.1,203.3 L785.2,197.8 L786.5,201.1 L787.8,202.2 L789.3,201.0 L790.9,197.8" fill="none" stroke="#3cc27a" stroke-width="1.3"/>
<rect x="483" y="299" width="8.5" height="8.5" fill="#3cc27a"/><rect x="529" y="299" width="8.5" height="8.5" fill="#9b59b6"/>
<path d="M685.5,585 L695.5,585 L690.5,590.5 Z" fill="#555"/>
<rect x="455.2" y="609.5" width="255" height="1.2" fill="#888"/>
<line x1="478.1" y1="649" x2="478.1" y2="771.6" stroke="#cccccc" stroke-width="1"/>
<line x1="530.5" y1="649" x2="530.5" y2="771.6" stroke="#cccccc" stroke-width="1"/>
<line x1="582.9" y1="649" x2="582.9" y2="771.6" stroke="#cccccc" stroke-width="1"/>
<line x1="635.3" y1="649" x2="635.3" y2="771.6" stroke="#cccccc" stroke-width="1"/>
<line x1="687.7" y1="649" x2="687.7" y2="771.6" stroke="#cccccc" stroke-width="1"/>
<line x1="740.1" y1="649" x2="740.1" y2="771.6" stroke="#cccccc" stroke-width="1"/>
<line x1="478.1" y1="771.6" x2="792" y2="771.6" stroke="#cccccc" stroke-width="1"/>
<path d="M478.1,771.6 L478.4,771.6 L478.6,691.1 L479.4,696.5 L480.5,660.7 L481.5,685.8 L482.6,675.0 L483.6,689.4 L484.7,678.6 L485.7,701.9 L486.7,676.8 L487.8,714.4 L487.8,709.3 L489.6,686.8 L491.4,670.0 L493.1,690.3 L494.6,713.3 L496.5,694.0 L498.0,670.3 L499.8,686.6 L501.8,709.9 L503.4,679.8 L505.4,710.3 L506.9,685.6 L508.7,670.7 L510.3,683.8 L512.0,705.8 L513.7,693.8 L515.7,671.0 L517.2,686.9 L519.0,706.8 L520.9,693.3 L522.6,715.2 L524.7,692.6 L526.7,704.8 L528.3,686.9 L529.8,707.0 L531.7,690.8 L533.5,711.0 L535.1,683.0 L536.7,712.5 L538.9,684.6 L540.4,704.8 L542.4,690.5 L544.1,672.2 L545.7,687.2 L547.4,672.4 L549.0,692.8 L550.7,715.6 L552.9,683.9 L554.8,672.7 L556.9,672.8 L558.9,711.8 L561.1,694.8 L563.3,714.9 L565.4,691.2 L567.5,711.1 L569.4,690.0 L571.4,708.4 L573.5,689.0 L575.4,673.6 L577.4,695.7 L579.0,716.3 L581.2,696.5 L583.2,712.7 L585.1,689.9 L587.1,711.4 L589.3,688.0 L590.9,710.6 L593.1,687.0 L594.6,715.4 L596.4,690.5 L598.5,674.6 L600.0,690.4 L601.9,674.7 L603.4,695.2 L605.0,713.6 L606.8,720.2 L609.0,736.5 L610.6,724.8 L612.2,733.3 L614.0,719.7 L616.1,738.4 L618.1,724.2 L620.3,732.7 L622.3,719.4 L623.9,733.4 L625.9,721.3 L628.1,732.5 L630.3,720.5 L632.1,732.7 L633.5,722.3 L635.1,731.3 L636.7,720.5 L638.7,736.5 L640.2,723.2 L642.2,734.5 L644.1,723.5 L646.2,730.3 L648.1,722.9 L649.9,737.0 L651.8,720.7 L653.6,737.3 L655.3,716.8 L657.2,732.0 L659.3,722.9 L661.2,738.3 L662.7,725.0 L664.4,732.3 L666.4,723.9 L668.0,734.3 L669.8,723.4 L671.7,734.5 L673.6,721.1 L675.7,737.2 L677.9,720.7 L679.4,731.1 L680.9,720.2 L682.5,742.1 L684.1,718.5 L685.6,732.5 L687.6,725.9 L689.1,734.0 L690.6,725.2 L692.8,742.1 L695.0,720.6 L696.8,734.3 L698.3,718.7 L700.1,735.7 L701.6,724.3 L703.7,733.1 L705.5,721.2 L707.5,730.2 L709.6,720.4 L711.7,733.5 L713.5,722.8 L715.3,731.8 L717.2,720.9 L718.9,734.4 L720.7,718.1 L722.7,739.2 L724.7,713.5 L726.3,735.3 L728.5,721.4 L730.4,736.0 L731.9,713.5 L734.1,732.0 L735.9,723.5 L737.7,733.5 L739.3,720.5 L741.3,735.3 L742.8,722.4 L745.0,737.7 L747.1,722.1 L749.0,738.0 L751.1,720.6 L753.2,736.5 L755.0,725.9 L756.5,732.6 L758.2,721.7 L760.1,734.3 L761.7,721.9 L763.6,734.2 L765.5,720.5 L767.1,729.8 L769.2,726.8 L771.0,736.7 L772.5,723.2 L774.4,733.2 L776.1,713.5 L777.7,735.0 L779.3,723.5 L781.0,732.1 L782.9,718.1 L784.6,742.1 L786.1,721.5 L787.8,737.7 L789.8,725.2" fill="none" stroke="#f5ad6e" stroke-width="1.5"/>
<path d="M479.4,725.6 L493.8,725.6 L493.8,726.0 L514.8,726.0 L514.8,726.9 L546.2,726.9 L546.2,727.8 L572.4,727.8 L572.4,728.7 L588.1,728.7 L588.1,729.1 L601.2,729.1 L601.2,730.0 L640.5,730.0 L640.5,730.5 L687.7,730.5 L687.7,731.4 L724.4,731.4 L724.4,731.8 L766.3,731.8 L766.3,732.7 L789.9,732.7" fill="none" stroke="#4ab5b5" stroke-width="1.4"/>
<circle cx="478.1" cy="771.6" r="2.6" fill="#fff" stroke="#111" stroke-width="1.6"/>
<line x1="478.6" y1="768.6" x2="478.6" y2="660" stroke="#e8a060" stroke-width="1"/>
<rect x="483.4" y="796.5" width="7.6" height="8" fill="#4ab5b5"/><rect x="548" y="796.5" width="7.6" height="8" fill="#f5ad6e"/><rect x="612.5" y="796.5" width="7.6" height="8" fill="#222"/>
<line x1="908.2" y1="560.7" x2="908.2" y2="706.4" stroke="#d4d4d4" stroke-width="1"/>
<line x1="923.8" y1="560.7" x2="923.8" y2="706.4" stroke="#d4d4d4" stroke-width="1"/>
<line x1="939.4" y1="560.7" x2="939.4" y2="706.4" stroke="#d4d4d4" stroke-width="1"/>
<line x1="955.0" y1="560.7" x2="955.0" y2="706.4" stroke="#d4d4d4" stroke-width="1"/>
<line x1="970.6" y1="560.7" x2="970.6" y2="706.4" stroke="#d4d4d4" stroke-width="1"/>
<line x1="986.2" y1="560.7" x2="986.2" y2="706.4" stroke="#d4d4d4" stroke-width="1"/>
<line x1="1001.7" y1="560.7" x2="1001.7" y2="706.4" stroke="#d4d4d4" stroke-width="1"/>
<line x1="1017.3" y1="560.7" x2="1017.3" y2="706.4" stroke="#d4d4d4" stroke-width="1"/>
<line x1="1032.9" y1="560.7" x2="1032.9" y2="706.4" stroke="#d4d4d4" stroke-width="1"/>
<line x1="1048.5" y1="560.7" x2="1048.5" y2="706.4" stroke="#d4d4d4" stroke-width="1"/>
<line x1="1064.1" y1="560.7" x2="1064.1" y2="706.4" stroke="#d4d4d4" stroke-width="1"/>
<line x1="1079.7" y1="560.7" x2="1079.7" y2="706.4" stroke="#d4d4d4" stroke-width="1"/>
<line x1="1095.3" y1="560.7" x2="1095.3" y2="706.4" stroke="#d4d4d4" stroke-width="1"/>
<line x1="1110.9" y1="560.7" x2="1110.9" y2="706.4" stroke="#d4d4d4" stroke-width="1"/>
<line x1="1126.5" y1="560.7" x2="1126.5" y2="706.4" stroke="#d4d4d4" stroke-width="1"/>
<line x1="1142.0" y1="560.7" x2="1142.0" y2="706.4" stroke="#d4d4d4" stroke-width="1"/>
<line x1="1157.6" y1="560.7" x2="1157.6" y2="706.4" stroke="#d4d4d4" stroke-width="1"/>
<line x1="1173.2" y1="560.7" x2="1173.2" y2="706.4" stroke="#d4d4d4" stroke-width="1"/>
<line x1="1188.8" y1="560.7" x2="1188.8" y2="706.4" stroke="#d4d4d4" stroke-width="1"/>
<line x1="1204.4" y1="560.7" x2="1204.4" y2="706.4" stroke="#d4d4d4" stroke-width="1"/>
<line x1="908.2" y1="706.4" x2="1204.4" y2="706.4" stroke="#d4d4d4" stroke-width="1"/>
<polyline points="908.2,573.7 923.8,588.9 939.4,594.9 955.0,599.8 970.6,603.4 986.2,606.8 1001.7,609.3 1017.3,612.5 1032.9,634.8 1048.5,636.3 1064.1,636.4 1079.7,636.4 1095.3,636.4 1110.9,636.4 1126.5,636.4 1142.0,636.4 1157.6,636.4 1173.2,636.4 1188.8,636.4 1204.4,636.4" fill="none" stroke="#eab77e" stroke-width="1.5"/>
<path d="M463.5,51 L449,51 M455.5,44 L448.5,51 L455.5,58" fill="none" stroke="#111" stroke-width="2" stroke-linecap="butt" stroke-linejoin="miter"/>
<g fill="#111"><circle cx="800.1" cy="50.8" r="3.1"/><circle cx="811.9" cy="44.6" r="3.1"/><circle cx="811.9" cy="56.9" r="3.1"/></g><path d="M811.9,44.6 L800.1,50.8 L811.9,56.9" fill="none" stroke="#111" stroke-width="2.3"/>
<path d="M880.0,51 L865.5,51 M872.0,44 L865.0,51 L872.0,58" fill="none" stroke="#111" stroke-width="2" stroke-linecap="butt" stroke-linejoin="miter"/>
<g fill="#111"><circle cx="1217.1" cy="50.8" r="3.1"/><circle cx="1228.9" cy="44.3" r="3.1"/><circle cx="1228.9" cy="57.2" r="3.1"/></g><path d="M1228.9,44.3 L1217.1,50.8 L1228.9,57.2" fill="none" stroke="#111" stroke-width="2.3"/>
<g fill="#111"><circle cx="1202.1" cy="403.9" r="3.1"/><circle cx="1213.9" cy="397.6" r="3.1"/><circle cx="1213.9" cy="410.3" r="3.1"/></g><path d="M1213.9,397.6 L1202.1,403.9 L1213.9,410.3" fill="none" stroke="#111" stroke-width="2.3"/>
</svg>
<span class="t" style="left:68.40px;top:50.02px;font-size:16.28px;color:#f4f4f4;transform:scaleX(0.9035);-webkit-text-stroke:0.45px currentColor;">START TEST</span>
<span class="t" style="left:279.40px;top:49.51px;font-size:17.59px;color:#d6d6d6;transform:scaleX(0.9253);">60:00:1</span>
<span class="t" style="left:140.00px;top:83.57px;font-size:12.79px;color:#d8d8d8;transform:scaleX(0.9925);">performance over time graph</span>
<span class="t" style="left:15.80px;top:93.28px;font-size:9.59px;color:#cfcfcf;transform:scaleX(0.9170);">100%</span>
<span class="t" style="left:20.30px;top:129.88px;font-size:9.59px;color:#cfcfcf;transform:scaleX(0.9374);">80%</span>
<span class="t" style="left:20.30px;top:166.48px;font-size:9.59px;color:#cfcfcf;transform:scaleX(0.9374);">60%</span>
<span class="t" style="left:20.30px;top:203.08px;font-size:9.59px;color:#cfcfcf;transform:scaleX(0.9374);">40%</span>
<span class="t" style="left:20.30px;top:239.68px;font-size:9.59px;color:#cfcfcf;transform:scaleX(0.9374);">20%</span>
<span class="t" style="left:33.10px;top:275.98px;font-size:9.59px;color:#cfcfcf;transform:scaleX(0.9745);">0</span>
<span class="t" style="left:317.60px;top:281.80px;font-size:11.34px;color:#d0d0d0;transform:scaleX(0.8700);">time(interval 10min)</span>
<span class="t" style="left:165.50px;top:297.83px;font-size:15.55px;color:#d8d8d8;transform:scaleX(1.0052);">Performance</span>
<span class="t" style="left:25.60px;top:318.93px;font-size:13.66px;color:#3f9a3f;transform:scaleX(0.9656);">Max 384,337GIPS</span>
<span class="t" style="left:157.50px;top:318.93px;font-size:13.66px;color:#9c6a44;transform:scaleX(0.9621);">Avg 249,050GIPS</span>
<span class="t" style="left:287.70px;top:318.93px;font-size:13.66px;color:#8c2a3c;transform:scaleX(0.9671);">Min 206,004GIPS</span>
<span class="t" style="left:74.80px;top:337.55px;font-size:14.17px;color:#d8d8d8;transform:scaleX(0.9627);">CPU throttled to 54% of its max performance</span>
<span class="t" style="left:116.25px;top:361.45px;font-size:11.63px;color:#9a5a6e;transform:scaleX(0.8109);">Kolichka.bg</span>
<span class="t" style="left:116.25px;top:375.53px;font-size:12.72px;color:#b01a32;font-weight:700;transform:scaleX(1.0273);">Всичко за Коледа с</span>
<span class="t" style="left:116.25px;top:390.03px;font-size:12.72px;color:#b01a32;font-weight:700;transform:scaleX(0.9954);">Kolichka.bg</span>
<span class="t" style="left:286.25px;top:376.66px;font-size:12.21px;color:#ffffff;transform:scaleX(0.9510);">Купете сега</span>
<span class="t" style="left:73.00px;top:379.65px;font-size:7.27px;color:#ffffff;font-weight:700;transform:scaleX(0.6362);">@ Kolichka.bg</span>
<span class="t" style="left:174.50px;top:414.42px;font-size:13.44px;color:#cccccc;transform:scaleX(0.9096);">CPU Monitor</span>
<span class="t" style="left:24.00px;top:428.59px;font-size:12.35px;color:#3cb43c;transform:scaleX(0.9024);-webkit-text-stroke:0.35px currentColor;">1.01GHz</span>
<span class="t" style="left:78.50px;top:428.59px;font-size:12.35px;color:#d6ce6e;transform:scaleX(0.8997);-webkit-text-stroke:0.35px currentColor;">T0C</span>
<span class="t" style="left:119.00px;top:428.59px;font-size:12.35px;color:#3cb43c;transform:scaleX(0.9024);-webkit-text-stroke:0.35px currentColor;">1.01GHz</span>
<span class="t" style="left:173.50px;top:428.59px;font-size:12.35px;color:#d6ce6e;transform:scaleX(0.8997);-webkit-text-stroke:0.35px currentColor;">T0C</span>
<span class="t" style="left:214.50px;top:428.59px;font-size:12.35px;color:#3cb43c;transform:scaleX(0.9024);-webkit-text-stroke:0.35px currentColor;">2.38GHz</span>
<span class="t" style="left:269.00px;top:428.59px;font-size:12.35px;color:#d6ce6e;transform:scaleX(0.8997);-webkit-text-stroke:0.35px currentColor;">T0C</span>
<span class="t" style="left:310.00px;top:428.59px;font-size:12.35px;color:#3cb43c;transform:scaleX(0.9024);-webkit-text-stroke:0.35px currentColor;">2.38GHz</span>
<span class="t" style="left:364.50px;top:428.59px;font-size:12.35px;color:#d6ce6e;transform:scaleX(0.9268);-webkit-text-stroke:0.35px currentColor;">T38C</span>
<span class="t" style="left:24.00px;top:518.34px;font-size:12.35px;color:#3cb43c;transform:scaleX(0.9024);-webkit-text-stroke:0.35px currentColor;">2.38GHz</span>
<span class="t" style="left:78.50px;top:518.34px;font-size:12.35px;color:#d6ce6e;transform:scaleX(0.9268);-webkit-text-stroke:0.35px currentColor;">T65C</span>
<span class="t" style="left:119.00px;top:518.34px;font-size:12.35px;color:#3cb43c;transform:scaleX(0.9024);-webkit-text-stroke:0.35px currentColor;">0.49GHz</span>
<span class="t" style="left:173.50px;top:518.34px;font-size:12.35px;color:#d6ce6e;transform:scaleX(0.9268);-webkit-text-stroke:0.35px currentColor;">T65C</span>
<span class="t" style="left:214.50px;top:518.34px;font-size:12.35px;color:#3cb43c;transform:scaleX(0.9024);-webkit-text-stroke:0.35px currentColor;">0.49GHz</span>
<span class="t" style="left:269.00px;top:518.34px;font-size:12.35px;color:#d6ce6e;transform:scaleX(0.8997);-webkit-text-stroke:0.35px currentColor;">T0C</span>
<span class="t" style="left:310.00px;top:518.34px;font-size:12.35px;color:#3cb43c;transform:scaleX(0.9024);-webkit-text-stroke:0.35px currentColor;">1.01GHz</span>
<span class="t" style="left:364.50px;top:518.34px;font-size:12.35px;color:#d6ce6e;transform:scaleX(0.8997);-webkit-text-stroke:0.35px currentColor;">T0C</span>
<span class="t" style="left:15.70px;top:608.14px;font-size:12.35px;color:#3cb43c;transform:scaleX(0.8872);-webkit-text-stroke:0.3px currentColor;">MAX CPU CLOCK:3.30GHz,</span>
<span class="t" style="left:159.80px;top:608.14px;font-size:12.35px;color:#d6ce6e;transform:scaleX(0.8664);-webkit-text-stroke:0.3px currentColor;">TEMPERATURE:93C</span>
<span class="t" style="left:65.00px;top:635.15px;font-size:16.72px;color:#f4f4f4;transform:scaleX(0.9195);-webkit-text-stroke:0.45px currentColor;">TEST JAVA/C</span>
<span class="t" style="left:274.50px;top:635.15px;font-size:16.72px;color:#f4f4f4;transform:scaleX(0.8640);-webkit-text-stroke:0.45px currentColor;">OPTIONS</span>
<span class="t" style="left:132.90px;top:681.65px;font-size:16.72px;color:#f4f4f4;transform:scaleX(0.8821);-webkit-text-stroke:0.45px currentColor;">HELP/INSTRUCTIONS</span>
<span class="t" style="left:502.90px;top:44.81px;font-size:13.81px;color:#111111;transform:scaleX(0.9990);-webkit-text-stroke:0.4px currentColor;">Wild Life Stress Test</span>
<span class="t" style="left:451.70px;top:88.97px;font-size:14.68px;color:#777777;transform:scaleX(0.9408);">Compare frame rates from the best and worst loops</span>
<span class="t" style="left:475.40px;top:279.54px;font-size:10.47px;color:#333333;transform:scaleX(0.9963);-webkit-text-stroke:0.25px currentColor;">0</span>
<span class="t" style="left:524.60px;top:279.54px;font-size:10.47px;color:#333333;transform:scaleX(0.9965);-webkit-text-stroke:0.25px currentColor;">10</span>
<span class="t" style="left:576.70px;top:279.54px;font-size:10.47px;color:#333333;transform:scaleX(0.9965);-webkit-text-stroke:0.25px currentColor;">20</span>
<span class="t" style="left:628.80px;top:279.54px;font-size:10.47px;color:#333333;transform:scaleX(0.9965);-webkit-text-stroke:0.25px currentColor;">30</span>
<span class="t" style="left:680.90px;top:279.54px;font-size:10.47px;color:#333333;transform:scaleX(0.9965);-webkit-text-stroke:0.25px currentColor;">40</span>
<span class="t" style="left:733.00px;top:279.54px;font-size:10.47px;color:#333333;transform:scaleX(0.9965);-webkit-text-stroke:0.25px currentColor;">50</span>
<span class="t" style="left:785.10px;top:279.54px;font-size:10.47px;color:#333333;transform:scaleX(0.9965);-webkit-text-stroke:0.25px currentColor;">60</span>
<span class="t" style="left:467.00px;top:269.41px;font-size:10.03px;color:#333333;transform:scaleX(1.0038);-webkit-text-stroke:0.25px currentColor;">0</span>
<span class="t" style="left:461.40px;top:252.54px;font-size:10.03px;color:#333333;transform:scaleX(1.0039);-webkit-text-stroke:0.25px currentColor;">20</span>
<span class="t" style="left:461.40px;top:235.66px;font-size:10.03px;color:#333333;transform:scaleX(1.0039);-webkit-text-stroke:0.25px currentColor;">40</span>
<span class="t" style="left:461.40px;top:218.79px;font-size:10.03px;color:#333333;transform:scaleX(1.0039);-webkit-text-stroke:0.25px currentColor;">60</span>
<span class="t" style="left:461.40px;top:201.92px;font-size:10.03px;color:#333333;transform:scaleX(1.0039);-webkit-text-stroke:0.25px currentColor;">80</span>
<span class="t" style="left:455.80px;top:185.05px;font-size:10.03px;color:#333333;transform:scaleX(1.0039);-webkit-text-stroke:0.25px currentColor;">100</span>
<span class="t" style="left:455.80px;top:168.18px;font-size:10.03px;color:#333333;transform:scaleX(1.0039);-webkit-text-stroke:0.25px currentColor;">120</span>
<span class="t" style="left:455.80px;top:151.30px;font-size:10.03px;color:#333333;transform:scaleX(1.0039);-webkit-text-stroke:0.25px currentColor;">140</span>
<span class="t" style="left:496.00px;top:298.39px;font-size:10.76px;color:#444444;transform:scaleX(0.8511);-webkit-text-stroke:0.2px currentColor;">Loop 1</span>
<span class="t" style="left:541.00px;top:298.39px;font-size:10.76px;color:#444444;transform:scaleX(0.9002);-webkit-text-stroke:0.2px currentColor;">Loop 12</span>
<span class="t" style="left:587.30px;top:314.88px;font-size:13.37px;color:#777777;transform:scaleX(0.9111);">Time (seconds)</span>
<span class="t" style="left:445.2px;top:224.6px;transform:translate(-50%,-50%) rotate(-90deg);transform-origin:50% 50%;font-size:11.8px;color:#777;">Frame rate</span>
<span class="t" style="left:451.80px;top:380.32px;font-size:23.84px;color:#212121;transform:scaleX(0.9946);">Performance monitoring</span>
<span class="t" style="left:451.80px;top:414.49px;font-size:14.54px;color:#777777;transform:scaleX(0.9336);">See what was happening inside your device during your</span>
<span class="t" style="left:451.80px;top:429.99px;font-size:14.54px;color:#777777;transform:scaleX(0.9358);">benchmark run.</span>
<span class="t" style="left:452.20px;top:473.46px;font-size:15.99px;color:#212121;transform:scaleX(0.9536);">Battery</span>
<span class="t" style="left:629.40px;top:473.46px;font-size:15.99px;color:#666666;transform:scaleX(0.9232);">52% to 44%</span>
<span class="t" style="left:452.20px;top:502.26px;font-size:15.99px;color:#212121;transform:scaleX(0.9737);">Temperature</span>
<span class="t" style="left:629.40px;top:502.26px;font-size:15.99px;color:#666666;transform:scaleX(0.9427);">27°C to 43°C</span>
<span class="t" style="left:452.20px;top:530.96px;font-size:15.99px;color:#212121;transform:scaleX(0.9375);">Frame rate</span>
<span class="t" style="left:629.40px;top:530.96px;font-size:15.99px;color:#666666;transform:scaleX(0.9328);">34 FPS to 125 FPS</span>
<span class="t" style="left:463.40px;top:580.49px;font-size:16.42px;color:#212121;transform:scaleX(0.9273);">Battery and Frame rate</span>
<span class="t" style="left:475.20px;top:776.24px;font-size:10.47px;color:#333333;transform:scaleX(0.9963);-webkit-text-stroke:0.25px currentColor;">0</span>
<span class="t" style="left:521.80px;top:776.24px;font-size:10.47px;color:#333333;transform:scaleX(0.9964);-webkit-text-stroke:0.25px currentColor;">200</span>
<span class="t" style="left:574.20px;top:776.24px;font-size:10.47px;color:#333333;transform:scaleX(0.9964);-webkit-text-stroke:0.25px currentColor;">400</span>
<span class="t" style="left:626.60px;top:776.24px;font-size:10.47px;color:#333333;transform:scaleX(0.9964);-webkit-text-stroke:0.25px currentColor;">600</span>
<span class="t" style="left:679.00px;top:776.24px;font-size:10.47px;color:#333333;transform:scaleX(0.9964);-webkit-text-stroke:0.25px currentColor;">800</span>
<span class="t" style="left:726.60px;top:776.24px;font-size:10.47px;color:#333333;transform:scaleX(1.0310);-webkit-text-stroke:0.25px currentColor;">1,000</span>
<span class="t" style="left:467.00px;top:767.71px;font-size:10.03px;color:#333333;transform:scaleX(1.0038);-webkit-text-stroke:0.25px currentColor;">0</span>
<span class="t" style="left:461.40px;top:749.83px;font-size:10.03px;color:#333333;transform:scaleX(1.0039);-webkit-text-stroke:0.25px currentColor;">20</span>
<span class="t" style="left:461.40px;top:731.95px;font-size:10.03px;color:#333333;transform:scaleX(1.0039);-webkit-text-stroke:0.25px currentColor;">40</span>
<span class="t" style="left:461.40px;top:714.07px;font-size:10.03px;color:#333333;transform:scaleX(1.0039);-webkit-text-stroke:0.25px currentColor;">60</span>
<span class="t" style="left:461.40px;top:696.19px;font-size:10.03px;color:#333333;transform:scaleX(1.0039);-webkit-text-stroke:0.25px currentColor;">80</span>
<span class="t" style="left:455.80px;top:678.31px;font-size:10.03px;color:#333333;transform:scaleX(1.0039);-webkit-text-stroke:0.25px currentColor;">100</span>
<span class="t" style="left:455.80px;top:660.43px;font-size:10.03px;color:#333333;transform:scaleX(1.0039);-webkit-text-stroke:0.25px currentColor;">120</span>
<span class="t" style="left:487px;top:725.4px;transform:translate(-50%,-50%) rotate(-90deg);transform-origin:50% 50%;font-size:9.6px;font-weight:700;color:#111;">Wild Life Stress Test</span>
<span class="t" style="left:496.00px;top:796.34px;font-size:10.47px;color:#444444;transform:scaleX(0.8904);-webkit-text-stroke:0.2px currentColor;">Battery (%)</span>
<span class="t" style="left:561.00px;top:796.34px;font-size:10.47px;color:#444444;transform:scaleX(0.8793);-webkit-text-stroke:0.2px currentColor;">Frame rate</span>
<span class="t" style="left:624.50px;top:796.34px;font-size:10.47px;color:#444444;transform:scaleX(0.9393);-webkit-text-stroke:0.2px currentColor;">Markers</span>
<span class="t" style="left:587.70px;top:812.68px;font-size:13.37px;color:#777777;transform:scaleX(0.8980);">Time (seconds)</span>
<span class="t" style="left:893.50px;top:107.28px;font-size:34.16px;color:#111111;transform:scaleX(0.9657);">Wild Life Stress Test</span>
<span class="t" style="left:868.80px;top:211.43px;font-size:23.11px;color:#222222;transform:scaleX(0.9329);">ASUS_AI2401_D</span>
<span class="t" style="left:868.80px;top:240.58px;font-size:11.48px;color:#8a8a8a;transform:scaleX(1.0027);">Dec 29, 2023 16:54</span>
<span class="t" style="left:868.80px;top:272.33px;font-size:15.55px;color:#222222;transform:scaleX(1.0037);">Best loop score</span>
<span class="t" style="left:1175.80px;top:272.33px;font-size:15.55px;color:#333333;transform:scaleX(0.9859);-webkit-text-stroke:0.25px currentColor;">16 585</span>
<span class="t" style="left:868.80px;top:309.03px;font-size:15.55px;color:#222222;transform:scaleX(1.0131);">Lowest loop score</span>
<span class="t" style="left:1184.20px;top:309.03px;font-size:15.55px;color:#333333;transform:scaleX(0.9892);-webkit-text-stroke:0.25px currentColor;">8 747</span>
<span class="t" style="left:868.80px;top:346.13px;font-size:15.55px;color:#222222;transform:scaleX(1.0099);">Stability</span>
<span class="t" style="left:1181.50px;top:346.13px;font-size:15.55px;color:#333333;transform:scaleX(0.9343);-webkit-text-stroke:0.25px currentColor;">52.7%</span>
<span class="t" style="left:868.80px;top:397.62px;font-size:14.97px;color:#222222;transform:scaleX(0.8028);-webkit-text-stroke:0.4px currentColor;">USER GUIDE</span>
<span class="t" style="left:868.70px;top:466.82px;font-size:22.53px;color:#212121;transform:scaleX(1.0485);">Stress Test</span>
<span class="t" style="left:868.70px;top:499.05px;font-size:14.83px;color:#777777;transform:scaleX(0.9180);">See how performance changes under load</span>
<span class="t" style="left:905.40px;top:712.64px;font-size:10.47px;color:#333333;transform:scaleX(0.9620);-webkit-text-stroke:0.25px currentColor;">1</span>
<span class="t" style="left:920.99px;top:712.64px;font-size:10.47px;color:#333333;transform:scaleX(0.9620);-webkit-text-stroke:0.25px currentColor;">2</span>
<span class="t" style="left:936.58px;top:712.64px;font-size:10.47px;color:#333333;transform:scaleX(0.9620);-webkit-text-stroke:0.25px currentColor;">3</span>
<span class="t" style="left:952.17px;top:712.64px;font-size:10.47px;color:#333333;transform:scaleX(0.9620);-webkit-text-stroke:0.25px currentColor;">4</span>
<span class="t" style="left:967.76px;top:712.64px;font-size:10.47px;color:#333333;transform:scaleX(0.9620);-webkit-text-stroke:0.25px currentColor;">5</span>
<span class="t" style="left:983.35px;top:712.64px;font-size:10.47px;color:#333333;transform:scaleX(0.9620);-webkit-text-stroke:0.25px currentColor;">6</span>
<span class="t" style="left:998.94px;top:712.64px;font-size:10.47px;color:#333333;transform:scaleX(0.9620);-webkit-text-stroke:0.25px currentColor;">7</span>
<span class="t" style="left:1014.53px;top:712.64px;font-size:10.47px;color:#333333;transform:scaleX(0.9620);-webkit-text-stroke:0.25px currentColor;">8</span>
<span class="t" style="left:1030.12px;top:712.64px;font-size:10.47px;color:#333333;transform:scaleX(0.9620);-webkit-text-stroke:0.25px currentColor;">9</span>
<span class="t" style="left:1042.91px;top:712.64px;font-size:10.47px;color:#333333;transform:scaleX(0.9621);-webkit-text-stroke:0.25px currentColor;">10</span>
<span class="t" style="left:1058.50px;top:712.64px;font-size:10.47px;color:#333333;transform:scaleX(1.0309);-webkit-text-stroke:0.25px currentColor;">11</span>
<span class="t" style="left:1074.09px;top:712.64px;font-size:10.47px;color:#333333;transform:scaleX(0.9621);-webkit-text-stroke:0.25px currentColor;">12</span>
<span class="t" style="left:1089.68px;top:712.64px;font-size:10.47px;color:#333333;transform:scaleX(0.9621);-webkit-text-stroke:0.25px currentColor;">13</span>
<span class="t" style="left:1105.27px;top:712.64px;font-size:10.47px;color:#333333;transform:scaleX(0.9621);-webkit-text-stroke:0.25px currentColor;">14</span>
<span class="t" style="left:1120.86px;top:712.64px;font-size:10.47px;color:#333333;transform:scaleX(0.9621);-webkit-text-stroke:0.25px currentColor;">15</span>
<span class="t" style="left:1136.45px;top:712.64px;font-size:10.47px;color:#333333;transform:scaleX(0.9621);-webkit-text-stroke:0.25px currentColor;">16</span>
<span class="t" style="left:1152.04px;top:712.64px;font-size:10.47px;color:#333333;transform:scaleX(0.9621);-webkit-text-stroke:0.25px currentColor;">17</span>
<span class="t" style="left:1167.63px;top:712.64px;font-size:10.47px;color:#333333;transform:scaleX(0.9621);-webkit-text-stroke:0.25px currentColor;">18</span>
<span class="t" style="left:1183.22px;top:712.64px;font-size:10.47px;color:#333333;transform:scaleX(0.9621);-webkit-text-stroke:0.25px currentColor;">19</span>
<span class="t" style="left:1198.81px;top:712.64px;font-size:10.47px;color:#333333;transform:scaleX(0.9621);-webkit-text-stroke:0.25px currentColor;">20</span>
<span class="t" style="left:896.70px;top:701.94px;font-size:10.47px;color:#333333;transform:scaleX(0.9448);-webkit-text-stroke:0.25px currentColor;">0</span>
<span class="t" style="left:876.70px;top:677.94px;font-size:10.47px;color:#333333;transform:scaleX(0.9737);-webkit-text-stroke:0.25px currentColor;">3,000</span>
<span class="t" style="left:876.70px;top:653.94px;font-size:10.47px;color:#333333;transform:scaleX(0.9737);-webkit-text-stroke:0.25px currentColor;">6,000</span>
<span class="t" style="left:876.70px;top:629.94px;font-size:10.47px;color:#333333;transform:scaleX(0.9737);-webkit-text-stroke:0.25px currentColor;">9,000</span>
<span class="t" style="left:871.20px;top:605.94px;font-size:10.47px;color:#333333;transform:scaleX(0.9685);-webkit-text-stroke:0.25px currentColor;">12,000</span>
<span class="t" style="left:871.20px;top:581.94px;font-size:10.47px;color:#333333;transform:scaleX(0.9685);-webkit-text-stroke:0.25px currentColor;">15,000</span>
<span class="t" style="left:871.20px;top:557.94px;font-size:10.47px;color:#333333;transform:scaleX(0.9685);-webkit-text-stroke:0.25px currentColor;">18,000</span>
<span class="t" style="left:862.4px;top:632.8px;transform:translate(-50%,-50%) rotate(-90deg);transform-origin:50% 50%;font-size:11.5px;color:#777;">Score</span>
<span class="t" style="left:1032.00px;top:725.21px;font-size:11.92px;color:#777777;transform:scaleX(1.0183);">Loop</span>
<span class="t" style="left:885.10px;top:759.31px;font-size:23.26px;color:#e8a820;transform:scaleX(0.9896);">16585</span>
<span class="t" style="left:896.10px;top:789.09px;font-size:14.54px;color:#777777;transform:scaleX(0.8997);">Loop 1</span>
<span class="t" style="left:981.60px;top:759.31px;font-size:23.26px;color:#e8a820;transform:scaleX(0.9896);">14691</span>
<span class="t" style="left:992.60px;top:789.09px;font-size:14.54px;color:#777777;transform:scaleX(0.8997);">Loop 2</span>
<span class="t" style="left:1078.10px;top:759.31px;font-size:23.26px;color:#e8a820;transform:scaleX(0.9896);">13932</span>
<span class="t" style="left:1089.10px;top:789.09px;font-size:14.54px;color:#777777;transform:scaleX(0.8997);">Loop 3</span>
<div style="position:absolute;left:1165px;top:740px;width:58.5px;height:80px;overflow:hidden;"><span class="t" style="left:9.60px;top:19.31px;font-size:23.26px;color:#e8a820;transform:scaleX(0.9896);">13440</span><span class="t" style="left:20.60px;top:49.09px;font-size:14.54px;color:#777777;transform:scaleX(0.8997);">Loop 4</span></div>
</body></html>
